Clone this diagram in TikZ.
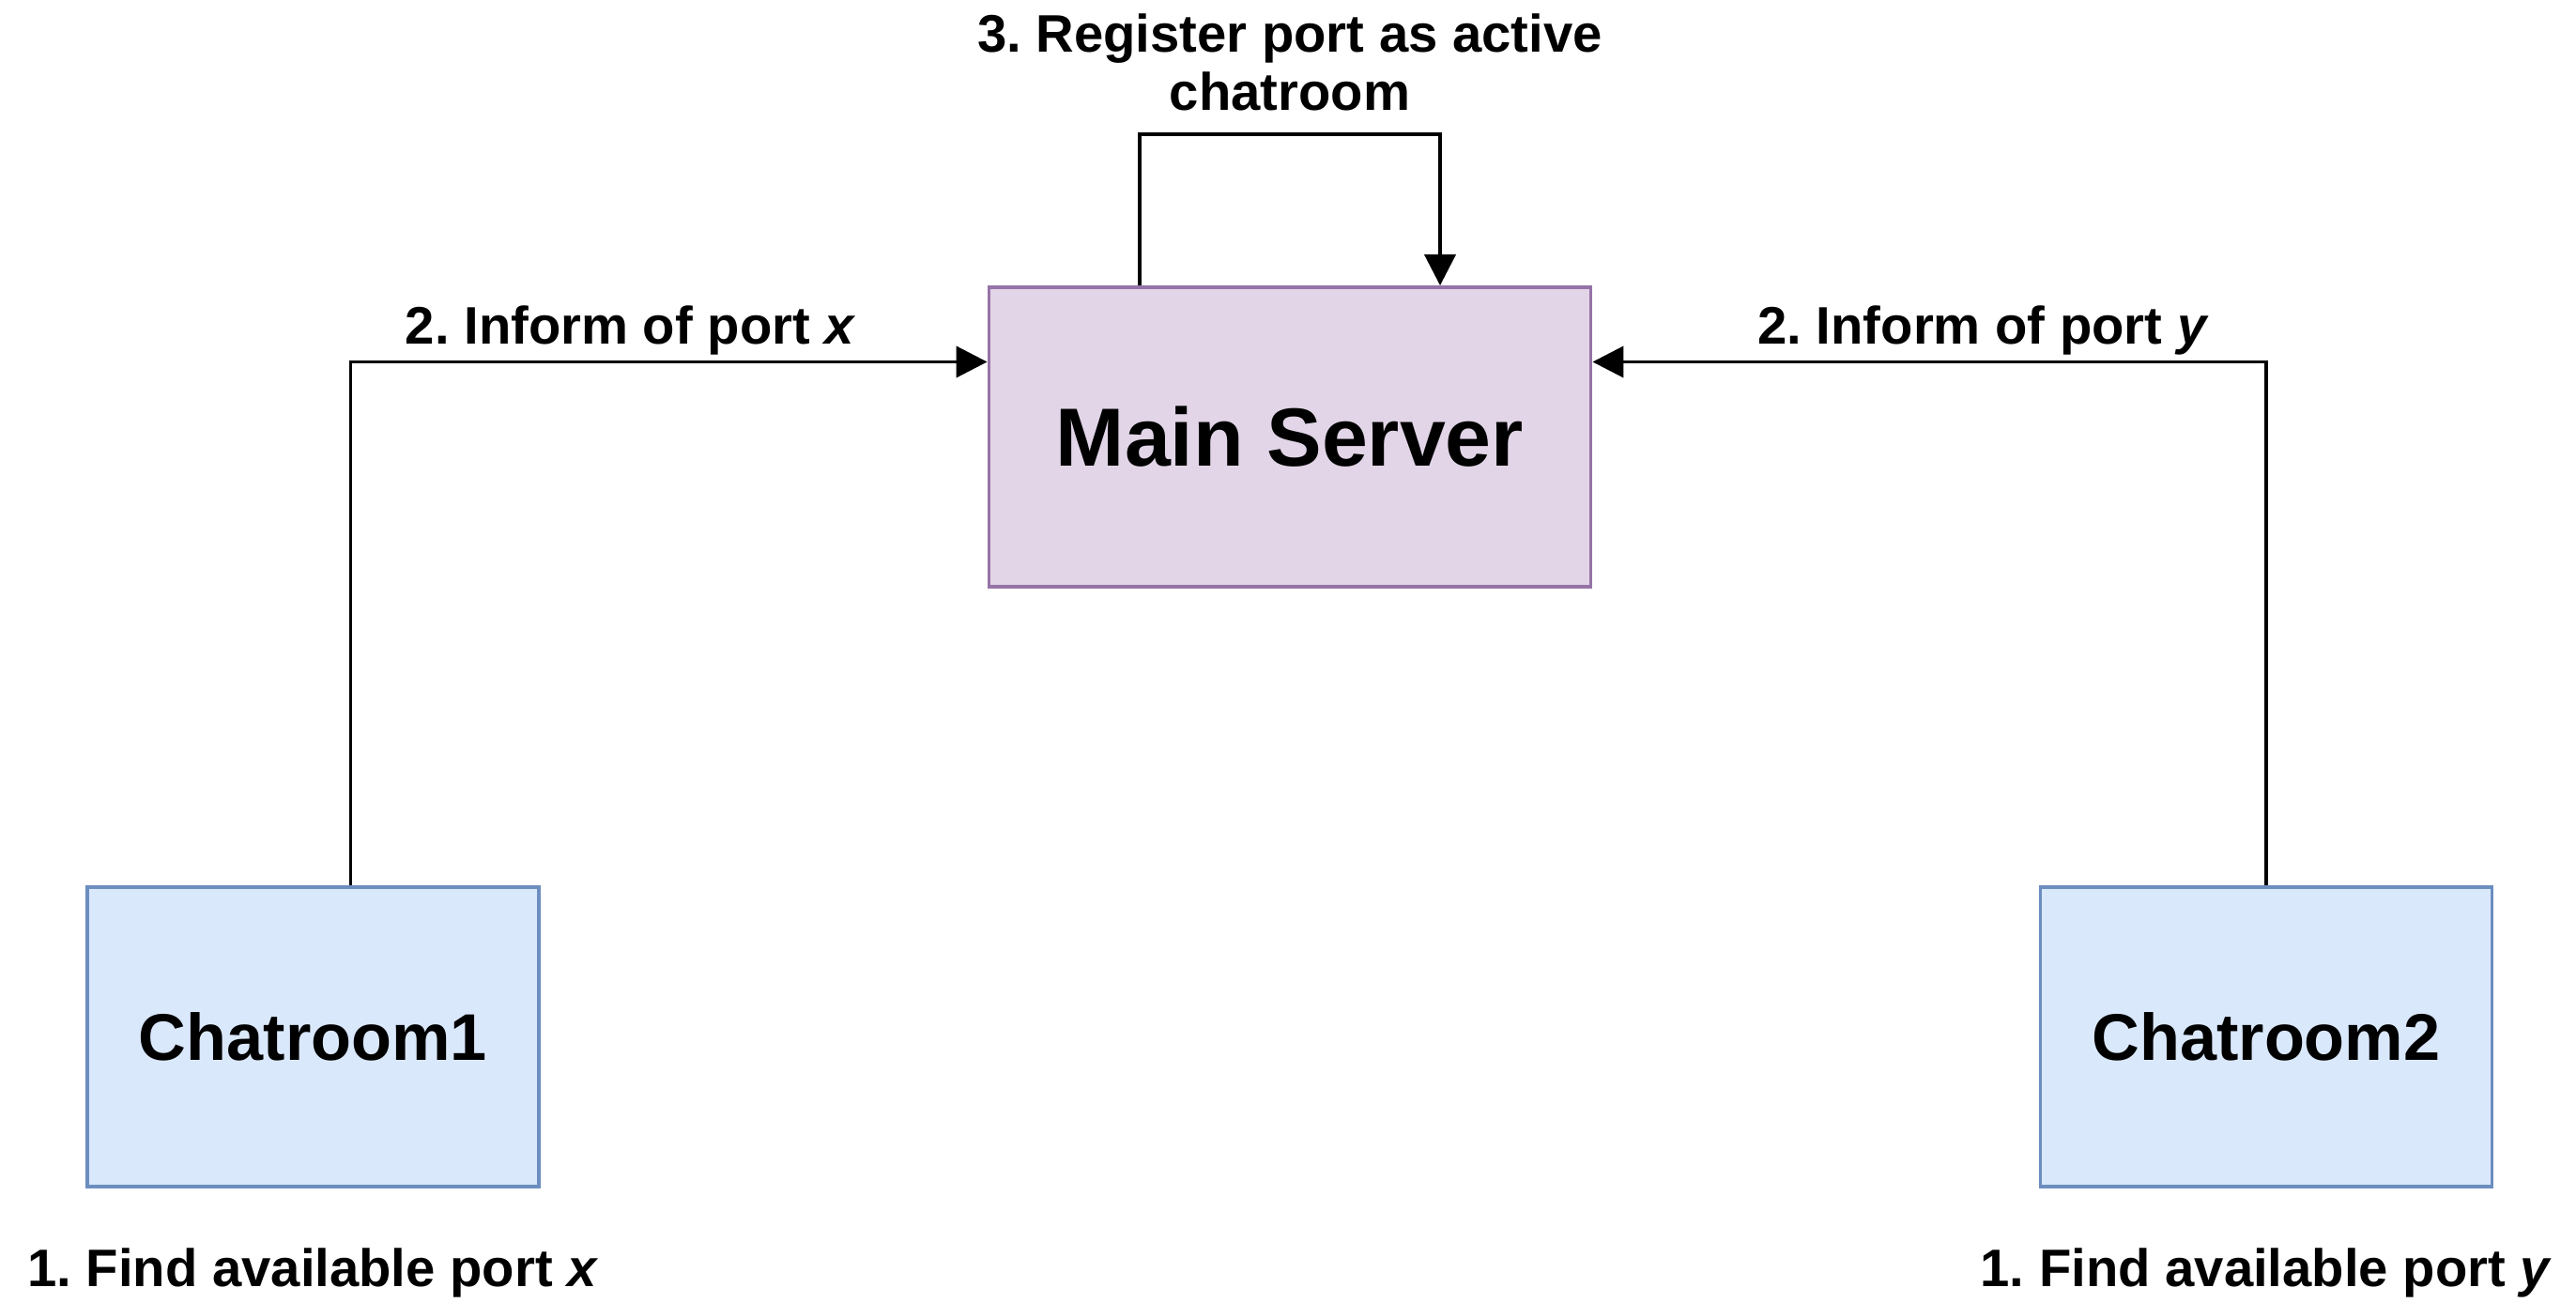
\documentclass[tikz,border=0pt]{standalone}
\usepackage{fontspec}
\setmainfont{Liberation Sans}
\usetikzlibrary{arrows.meta,positioning}
\definecolor{serverfill}{HTML}{E1D5E7}
\definecolor{serverline}{HTML}{9673A6}
\definecolor{roomfill}{HTML}{DAE8FC}
\definecolor{roomline}{HTML}{6C8EBF}
\frenchspacing

\begin{document}
\begin{tikzpicture}[
    server/.style={rectangle, draw=serverline, fill=serverfill, line width=1.1pt, minimum width=6.41cm, minimum height=3.19cm, font=\fontsize{25}{30}\selectfont\bfseries},
    room/.style={rectangle, draw=roomline, fill=roomfill, line width=1.1pt, minimum width=4.81cm, minimum height=3.19cm, font=\fontsize{20}{24}\selectfont\bfseries},
    flow/.style={-{Triangle[length=0.33cm,width=0.33cm]}, line width=1.1pt},
    step_label/.style={font=\fontsize{16}{17.5}\selectfont\bfseries, inner sep=1.5pt, align=center}
]
\useasboundingbox (0,0) rectangle (27.44,-13.88);
% Nodes
\node[server] (main) at (13.74,-4.655) {Main Server};
\node[room] (chat1) at (3.335,-11.045) {Chatroom1};
\node[room] (chat2) at (24.14,-11.045) {Chatroom2};
\node[step_label, below=0.58cm of chat1] (find1) {1. Find available port \textit{x}};
\node[step_label, below=0.58cm of chat2] (find2) {1. Find available port \textit{y}};

% Edges
\draw[flow] ([xshift=0.4cm]chat1.north) |- node[step_label, above, pos=0.72] {2. Inform of port \textit{x}} ([yshift=0.8cm]main.west);
\draw[flow] (chat2.north) |- node[step_label, above, pos=0.71] {2. Inform of port \textit{y}} ([yshift=0.8cm]main.east);
\draw[flow] ([xshift=-1.6cm]main.north) -- ++(0,1.61) -| node[step_label, above, pos=0.25, yshift=0.18cm] {3. Register port as active\\chatroom} ([xshift=1.6cm]main.north);
\end{tikzpicture}
\end{document}
